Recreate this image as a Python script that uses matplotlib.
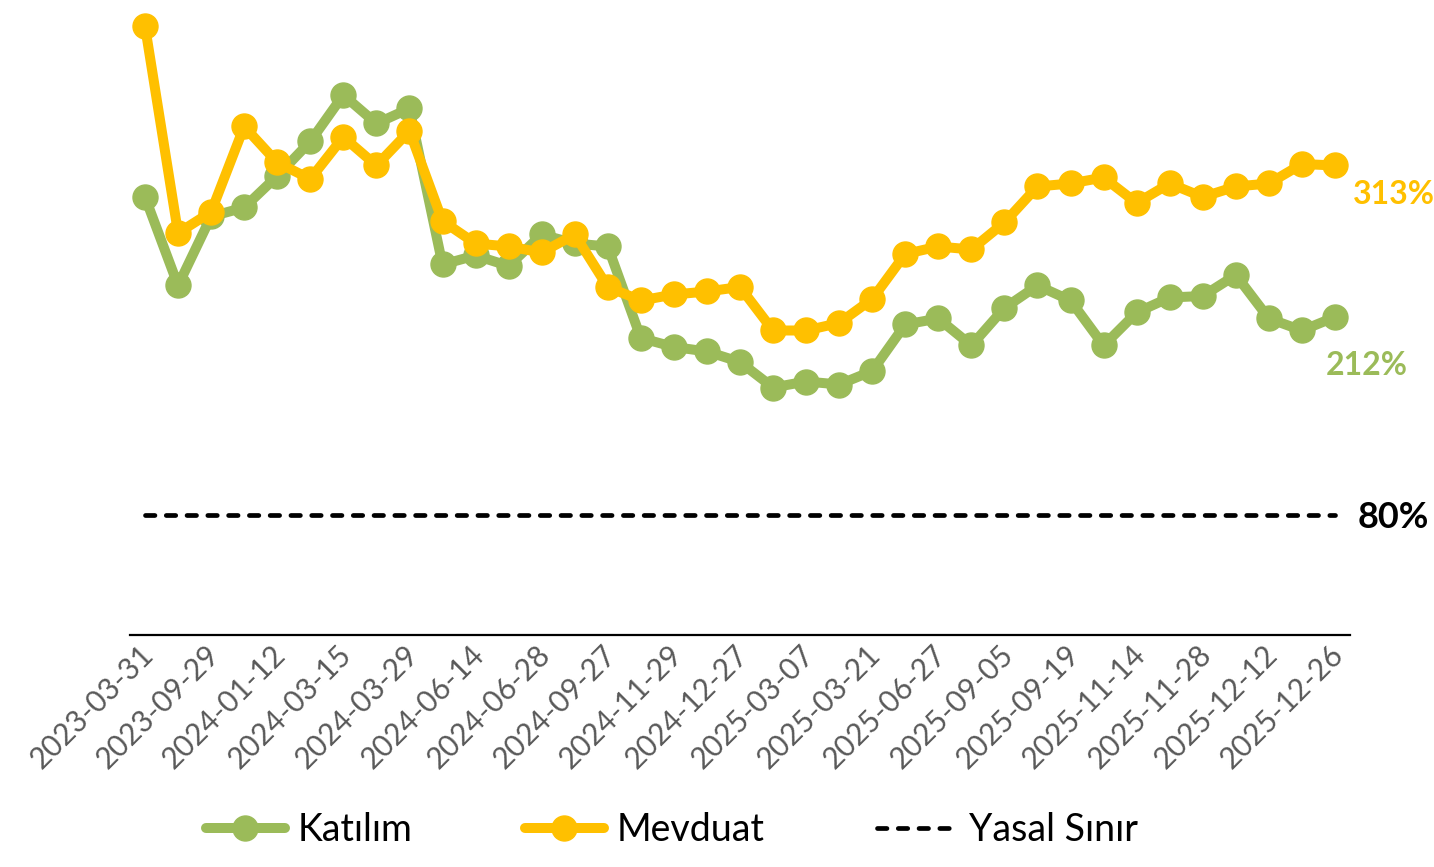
import matplotlib
matplotlib.use("Agg")
import matplotlib.pyplot as plt
import matplotlib.transforms as mtransforms

# weekly observations (only every other date is shown on the axis)
tick_labels = [
    "2023-03-31", "2023-09-29", "2024-01-12", "2024-03-15", "2024-03-29",
    "2024-06-14", "2024-06-28", "2024-09-27", "2024-11-29", "2024-12-27",
    "2025-03-07", "2025-03-21", "2025-06-27", "2025-09-05", "2025-09-19",
    "2025-11-14", "2025-11-28", "2025-12-12", "2025-12-26",
]

# Katilim (participation) ratio, %
katilim = [
    292, 233, 279, 285, 306, 329, 360, 341, 351, 247,
    253, 246, 267, 261, 259, 198, 192, 189, 182, 165,
    169, 167, 176, 207, 211, 193, 218, 233, 223, 193,
    215, 225, 226, 240, 211, 203, 212,
]

# Mevduat (deposit) ratio, %
mevduat = [
    406, 268, 282, 339, 315, 304, 332, 313, 336, 276,
    261, 259, 255, 267, 232, 223, 227, 229, 232, 203,
    203, 208, 224, 254, 259, 257, 275, 299, 301, 305,
    288, 301, 292, 299, 301, 314, 313,
]

# legal limit
yasal_sinir = 80

green = "#9BBB59"
gold = "#FFC000"
font_size = 21.5

plt.rcParams['font.family'] = ['Lato', 'DejaVu Sans']

x = list(range(len(mevduat)))
limit = [yasal_sinir] * len(x)

fig = plt.figure(figsize=(14.34, 8.67), dpi=100)
ax = fig.add_axes([130 / 1434, 1 - 635 / 867, 1220 / 1434, 630 / 867])

ax.plot(x, katilim, color=green, lw=7.2, marker='o', markersize=18,
        solid_joinstyle='round', solid_capstyle='round', label='Katılım')
ax.plot(x, mevduat, color=gold, lw=7.2, marker='o', markersize=18,
        solid_joinstyle='round', solid_capstyle='round', label='Mevduat')
ax.plot(x, limit, color='black', lw=3.4, dashes=(2.0, 2.4),
        dash_capstyle='round', label='Yasal Sınır')

# end labels
ax.annotate(f"{mevduat[-1]}%", (x[-1], mevduat[-1]), xytext=(13, -21),
            textcoords='offset points', ha='left', va='center',
            color=gold, fontsize=23, fontweight='bold', annotation_clip=False)
ax.annotate(f"{katilim[-1]}%", (x[-1], katilim[-1]), xytext=(-7, -35),
            textcoords='offset points', ha='left', va='center',
            color=green, fontsize=23, fontweight='bold', annotation_clip=False)
ax.annotate(f"{yasal_sinir}%", (x[-1], yasal_sinir), xytext=(16, -1.5),
            textcoords='offset points', ha='left', va='center',
            color='black', fontsize=26, fontweight='bold', annotation_clip=False)

ax.set_xlim(-0.454, len(x) - 1 + 0.454)
ax.set_ylim(0, 420)

ax.set_xticks(x[::2])
ax.set_xticklabels(tick_labels, rotation=45, ha='right', va='top',
                   rotation_mode='anchor', fontsize=font_size, color='#595959')
ax.tick_params(axis='x', length=0, pad=4)
ax.set_yticks([])

# nudge the rotated labels a little to the left
shift = mtransforms.ScaledTranslation(-6 / 100, 0, fig.dpi_scale_trans)
for lbl in ax.get_xticklabels():
    lbl.set_transform(lbl.get_transform() + shift)

for side in ['top', 'left', 'right']:
    ax.spines[side].set_visible(False)
ax.spines['bottom'].set_linewidth(1.6)
ax.spines['bottom'].set_color('black')

fig.legend(loc='center', bbox_to_anchor=(672 / 1434, 1 - 830 / 867), ncol=3,
           frameon=False, fontsize=27, handlelength=2.1, handletextpad=0.35,
           columnspacing=3.0, numpoints=1)

plt.savefig('out.png', dpi=100)
